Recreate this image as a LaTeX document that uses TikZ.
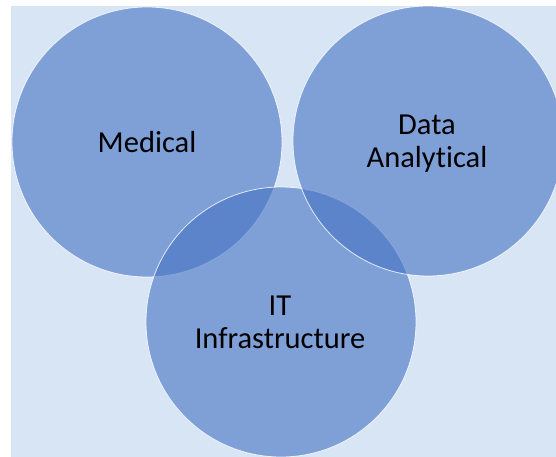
\documentclass[tikz,border=0pt]{standalone}
\usepackage{fontspec}
\setmainfont{Carlito}[Ligatures=NoCommon]
\definecolor{bgblue}{HTML}{D8E5F4}
\definecolor{circblue}{HTML}{4472C4}
\begin{document}
\begin{tikzpicture}[x=1pt,y=-1pt,
  venn/.style={circle, fill=circblue, fill opacity=0.6, draw=white, draw opacity=0.8, line width=0.8pt, minimum size=270pt, inner sep=0pt},
  lbl/.style={align=center, font=\fontsize{30.5}{33}\selectfont, text=black}]
\useasboundingbox (0,0) rectangle (556,457);
\fill[white] (0,0) rectangle (556,457);
\fill[bgblue] (10.5,6) rectangle (556,457);
\begin{scope}
\clip (10.5,6) rectangle (556,457);
\node[venn] (med) at (147,142) {};
\node[venn] (it) at (281,322) {};
\node[venn] (data) at (428,141) {};
\end{scope}
\node[lbl] (tmed) at (147,142) {Medical};
\node[lbl] (tdata) at (427,144) {Data\\Analytical};
\node[lbl] (tit) at (280,322) {IT\\Infrastructure};
\end{tikzpicture}
\end{document}
